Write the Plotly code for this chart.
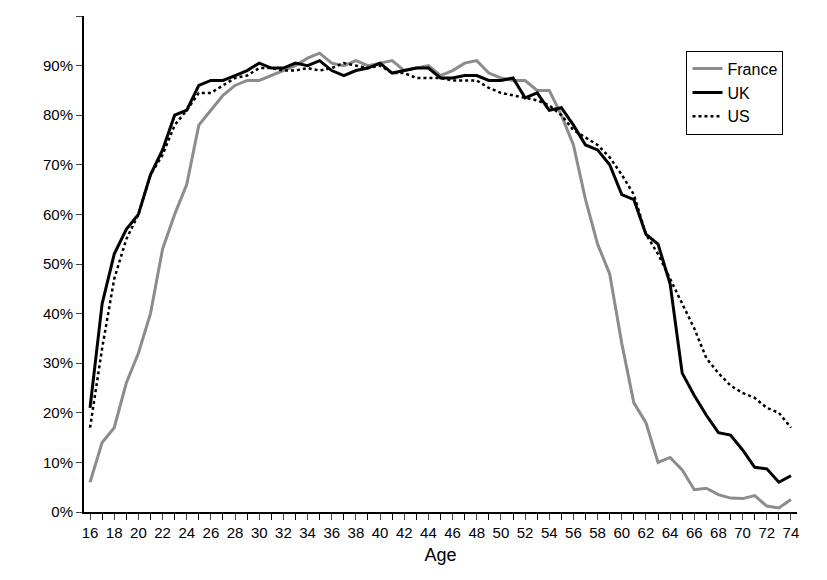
import plotly.graph_objects as go

ages = list(range(16, 75))

france = [6, 14, 17, 26, 32, 40, 53, 60, 66, 78, 81, 84, 86, 87, 87, 88, 89, 90, 91.5, 92.5,
          90.5, 90, 91, 90, 90.5, 91, 89, 89.5, 90, 88, 89, 90.5, 91, 88.5, 87.5, 87, 87, 85,
          85, 80, 74, 63, 54, 48, 34, 22, 18, 10, 11, 8.5, 4.5, 4.8, 3.5, 2.8, 2.7, 3.3, 1.2,
          0.8, 2.5]
uk = [21, 42, 52, 57, 60, 68, 73, 80, 81, 86, 87, 87, 88, 89, 90.5, 89.5, 89.5, 90.5, 90, 91,
      89, 88, 89, 89.5, 90.5, 88.5, 89, 89.5, 89.5, 87.5, 87.5, 88, 88, 87, 87, 87.5, 83.5,
      84.5, 81, 81.5, 78, 74, 73, 70, 64, 63, 56, 54, 46, 28, 23.5, 19.5, 16, 15.5, 12.5, 9,
      8.7, 6, 7.3]
us = [17, 33, 47, 55, 60, 68, 72, 78, 81, 84.5, 84.5, 86, 87.5, 88, 89.5, 89.5, 89, 89, 89.5,
      89, 89.5, 90.5, 90, 89.5, 90, 88.5, 88.5, 87.5, 87.5, 87.5, 87, 87, 87, 85.5, 84.5, 84,
      83.5, 83, 82, 80, 77, 75.5, 74, 71.5, 68, 64, 56, 52, 47, 42, 37, 31, 28, 25.5, 24, 23,
      21, 20, 17]

fig = go.Figure()
fig.add_trace(go.Scatter(x=ages, y=france, name="France", mode="lines",
                         line=dict(color="#8c8c8c", width=3)))
fig.add_trace(go.Scatter(x=ages, y=uk, name="UK", mode="lines",
                         line=dict(color="black", width=3)))
fig.add_trace(go.Scatter(x=ages, y=us, name="US", mode="lines",
                         line=dict(color="black", width=2.5, dash="dot")))

fig.update_layout(
    width=827, height=580,
    plot_bgcolor="white", paper_bgcolor="white",
    margin=dict(l=76, r=38, t=8, b=76),
    font=dict(family="Liberation Sans, Arial", size=15, color="black"),
    legend=dict(x=0.845, y=0.93, xanchor="left", yanchor="top",
                bordercolor="black", borderwidth=1, bgcolor="white",
                font=dict(size=16), tracegroupgap=0),
)
fig.update_xaxes(range=[15.5, 74.5], tickvals=list(range(16, 75, 2)), ticks="outside",
                 ticklen=6, showgrid=False, showline=True, linecolor="black", linewidth=2,
                 minor=dict(dtick=1, tick0=0, ticks="outside", ticklen=6, tickcolor="black"),
                 title=dict(text="Age", standoff=8), zeroline=False)
fig.update_yaxes(range=[0, 100], dtick=10, ticksuffix="%", ticks="outside", ticklen=6,
                 showgrid=False, showline=True, linecolor="black", linewidth=2,
                 zeroline=False)

fig.write_html("out.html")
